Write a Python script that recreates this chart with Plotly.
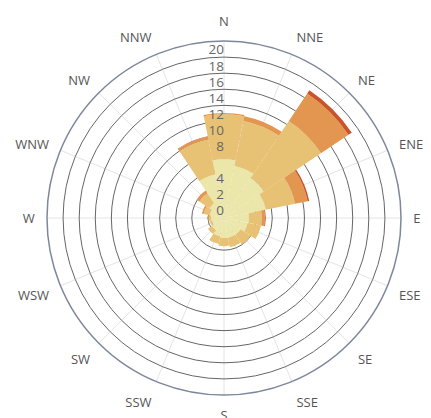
import plotly.graph_objects as go

directions = ["N", "NNE", "NE", "ENE", "E", "ESE", "SE", "SSE",
              "S", "SSW", "SW", "WSW", "W", "WNW", "NW", "NNW"]

band_1 = [7.3, 6.6, 6.0, 5.3, 3.1, 3.0, 2.5, 2.5, 2.5, 2.3, 1.8, 1.5, 1.6, 1.8, 2.2, 5.5]
band_2 = [5.6, 5.7, 8.5, 3.7, 1.6, 1.7, 1.5, 1.2, 1.0, 1.0, 0.6, 0.3, 0.3, 0.8, 1.5, 4.5]
band_3 = [0.15, 0.6, 4.1, 1.6, 0.4, 0.0, 0.0, 0.0, 0.0, 0.0, 0.0, 0.0, 0.1, 0.2, 0.4, 0.3]
band_4 = [0.0, 0.0, 0.5, 0.2, 0.1, 0.0, 0.0, 0.0, 0.0, 0.0, 0.0, 0.0, 0.0, 0.0, 0.0, 0.05]

grid_values = [0, 2, 4, 6, 8, 10, 12, 14, 16, 18, 20]
tick_labels = ["0", "2", "4", "", "8", "10", "12", "14", "16", "18", "20"]

bands = [band_1, band_2, band_3, band_4]
colors = ["#ebe6a9", "#e8c274", "#e2964f", "#c9542a"]

fig = go.Figure()
for vals, col in zip(bands, colors):
    fig.add_trace(go.Barpolar(r=vals, theta=directions, marker_color=col,
                              marker_line_width=0, showlegend=False,
                              hoverinfo="skip"))

# radial tick labels, placed just above their grid circle along the N spoke
fig.add_trace(go.Scatterpolar(
    r=[v + 0.75 for v in grid_values], theta=["N"] * len(grid_values),
    mode="text", text=tick_labels, textposition="middle left",
    textfont=dict(size=13.5, color="#666", family="Open Sans"),
    showlegend=False, hoverinfo="skip"))

fig.update_layout(
    width=423, height=410,
    margin=dict(l=39, r=30, t=33, b=23),
    paper_bgcolor="white",
    font=dict(family="Open Sans", color="#555"),
    polar=dict(
        bgcolor="white",
        bargap=0,
        radialaxis=dict(range=[0, 22], tickvals=grid_values,
                        angle=90, showline=False, ticks="",
                        showticklabels=False,
                        gridcolor="#666", gridwidth=1.3),
        angularaxis=dict(rotation=90, direction="clockwise",
                         categoryarray=directions, categoryorder="array",
                         linecolor="#7d879c", linewidth=1.5,
                         gridcolor="#e4e4e4",
                         ticks="outside", ticklen=9,
                         tickcolor="rgba(0,0,0,0)",
                         tickfont=dict(size=13, color="#555")),
    ),
)

fig.write_html("out.html")
